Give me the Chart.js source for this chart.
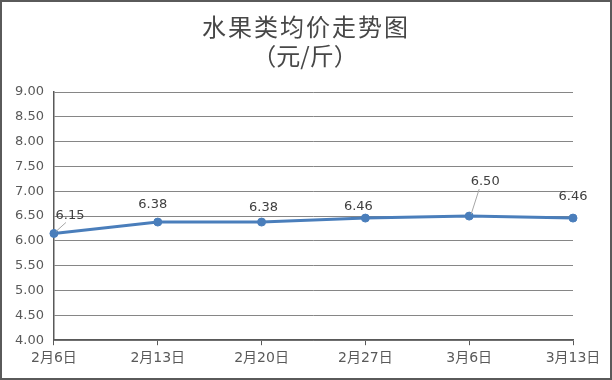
<!DOCTYPE html>
<html><head><meta charset="utf-8">
<script src="https://cdn.jsdelivr.net/npm/chart.js@4/dist/chart.umd.min.js"></script>
<style>
html,body{margin:0;padding:0;background:#fff;}
#wrap{width:612px;height:380px;box-sizing:border-box;border:2px solid #5a5a5a;position:relative;background:#fff;}
canvas{display:block;}
</style></head><body>
<div id="wrap"><canvas id="c" width="608" height="376"></canvas></div>
<script>
const titleLines = ['水果类均价走势图', '（元/斤）'];
const categories = ['2月6日', '2月13日', '2月20日', '2月27日', '3月6日', '3月13日'];
const prices = [6.15, 6.38, 6.38, 6.46, 6.50, 6.46];
const yMin = 4, yMax = 9, yStep = 0.5;

const labelOffsets = [[16,-18,true],[-5,-17,false],[2,-14,false],[-7,-11,false],[16,-34,true],[0,-21,false]];

const titlePlugin = {
  id: 'twoLineTitle',
  afterDraw(chart) {
    const ctx = chart.ctx;
    ctx.save();
    ctx.fillStyle = '#474747';
    ctx.font = '24px "Noto Sans CJK SC", sans-serif';
    ctx.textAlign = 'center';
    ctx.textBaseline = 'middle';
    ctx.letterSpacing = '2px';
    ctx.fillText(titleLines[0], 304, 25);
    ctx.letterSpacing = '0px';
    ctx.fillText(titleLines[1], 303, 54);
    ctx.restore();
  }
};

const labelPlugin = {
  id: 'pointLabels',
  afterDatasetsDraw(chart) {
    const ctx = chart.ctx;
    const meta = chart.getDatasetMeta(0);
    ctx.save();
    ctx.font = '13px "DejaVu Sans", sans-serif';
    ctx.textAlign = 'center';
    ctx.textBaseline = 'middle';
    meta.data.forEach((pt, i) => {
      const [dx, dy, leader] = labelOffsets[i];
      const lx = pt.x + dx, ly = pt.y + dy;
      if (leader) {
        ctx.strokeStyle = '#a6a6a6';
        ctx.lineWidth = 1;
        ctx.beginPath();
        ctx.moveTo(pt.x + 2, pt.y - 2);
        if (i === 0) ctx.lineTo(lx - 4, ly + 7);
        else ctx.lineTo(lx - 6, ly + 7);
        ctx.stroke();
      }
      ctx.fillStyle = '#404040';
      ctx.fillText(prices[i].toFixed(2), lx, ly);
    });
    ctx.restore();
  }
};

new Chart(document.getElementById('c'), {
  type: 'line',
  data: {
    labels: categories,
    datasets: [{
      data: prices,
      borderColor: '#4a7ebb',
      backgroundColor: '#4a7ebb',
      borderWidth: 3,
      pointRadius: 4,
      pointBorderWidth: 1,
      pointBackgroundColor: '#4a7ebb',
      pointBorderColor: '#4a7ebb',
      tension: 0
    }]
  },
  options: {
    responsive: false,
    animation: false,
    layout: { padding: { top: 90, right: 37, bottom: 6, left: 3 } },
    plugins: { legend: { display: false }, title: { display: false }, tooltip: { enabled: false } },
    scales: {
      x: {
        offset: false,
        grid: { drawOnChartArea: false, drawTicks: true, tickLength: 5, color: '#595959', lineWidth: 1 },
        border: { display: true, color: '#595959', width: 1.5 },
        ticks: { color: '#595959', font: { size: 14, family: '"DejaVu Sans", "Noto Sans CJK SC", sans-serif' }, padding: 5, maxRotation: 0, autoSkip: false }
      },
      y: {
        min: yMin, max: yMax,
        grid: { color: '#868686', lineWidth: 1, drawTicks: false },
        border: { display: true, color: '#595959', width: 1.5 },
        ticks: { stepSize: yStep, color: '#595959', padding: 10, font: { size: 13, family: '"DejaVu Sans", sans-serif' }, callback: v => v.toFixed(2) }
      }
    }
  },
  plugins: [titlePlugin, labelPlugin]
});
</script>
</body></html>
